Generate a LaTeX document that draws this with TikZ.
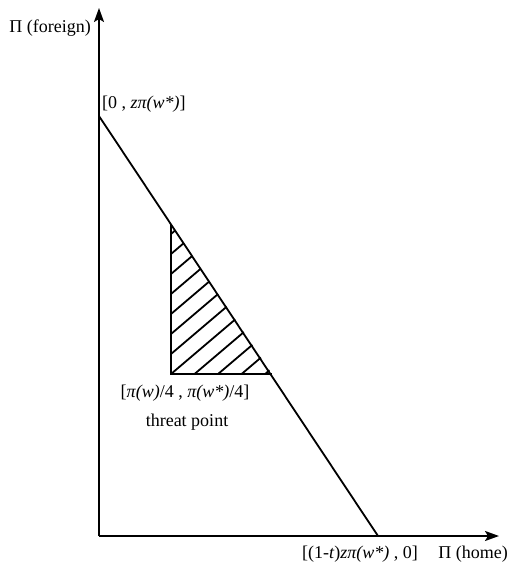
\documentclass[tikz,border=0pt]{standalone}
\usepackage{fontspec}
\setmainfont{Liberation Serif}
\usetikzlibrary{arrows.meta}
\begin{document}
\begin{tikzpicture}[x=1pt,y=-1pt,
  axis/.style={line width=2pt,-{Stealth[length=14pt,width=10pt,inset=3pt]}},
  frontier/.style={line width=1.8pt},
  tri/.style={line width=1.8pt},
  hatch/.style={line width=1.8pt},
  lbl/.style={font=\fontsize{18}{21}\selectfont,inner sep=0pt}]
\useasboundingbox (0,0) rectangle (520,570);
\coordinate (O) at (99,536);
\coordinate (Ytop) at (99,8);
\coordinate (Xend) at (499,536);
\coordinate (A) at (99,116);
\coordinate (B) at (378,536);
\coordinate (T) at (171,374);
\coordinate (Tt) at (171,224);
\coordinate (Tr) at (272,374);
\draw[axis] (O) -- (Ytop);
\draw[axis] (O) -- (Xend);
\draw[frontier] (A) -- (B);
\begin{scope}
\clip (T) -- (Tt) -- (Tr) -- cycle;
\foreach \c in {-100,-80,...,280}{
  \draw[hatch] (171,374-\c) -- ++(200,-170);
}
\end{scope}
\draw[tri] (Tt) -- (T) -- (Tr);
\node[lbl,anchor=east] (lf) at (91,28) {Π (foreign)};
\node[lbl,anchor=west] (l0) at (102,104) {[0 , \textit{zπ(w*)}]};
\node[lbl,anchor=center] (lt) at (185,393) {[\textit{π(w)}/4 , \textit{π(w*)}/4]};
\node[lbl,anchor=center] (ltp) at (187,422) {threat point};
\node[lbl,anchor=center] (lb) at (360,554) {[(1-\textit{t})\textit{zπ(w*)} , 0]};
\node[lbl,anchor=center] (lh) at (473,554) {Π (home)};
\end{tikzpicture}
\end{document}
